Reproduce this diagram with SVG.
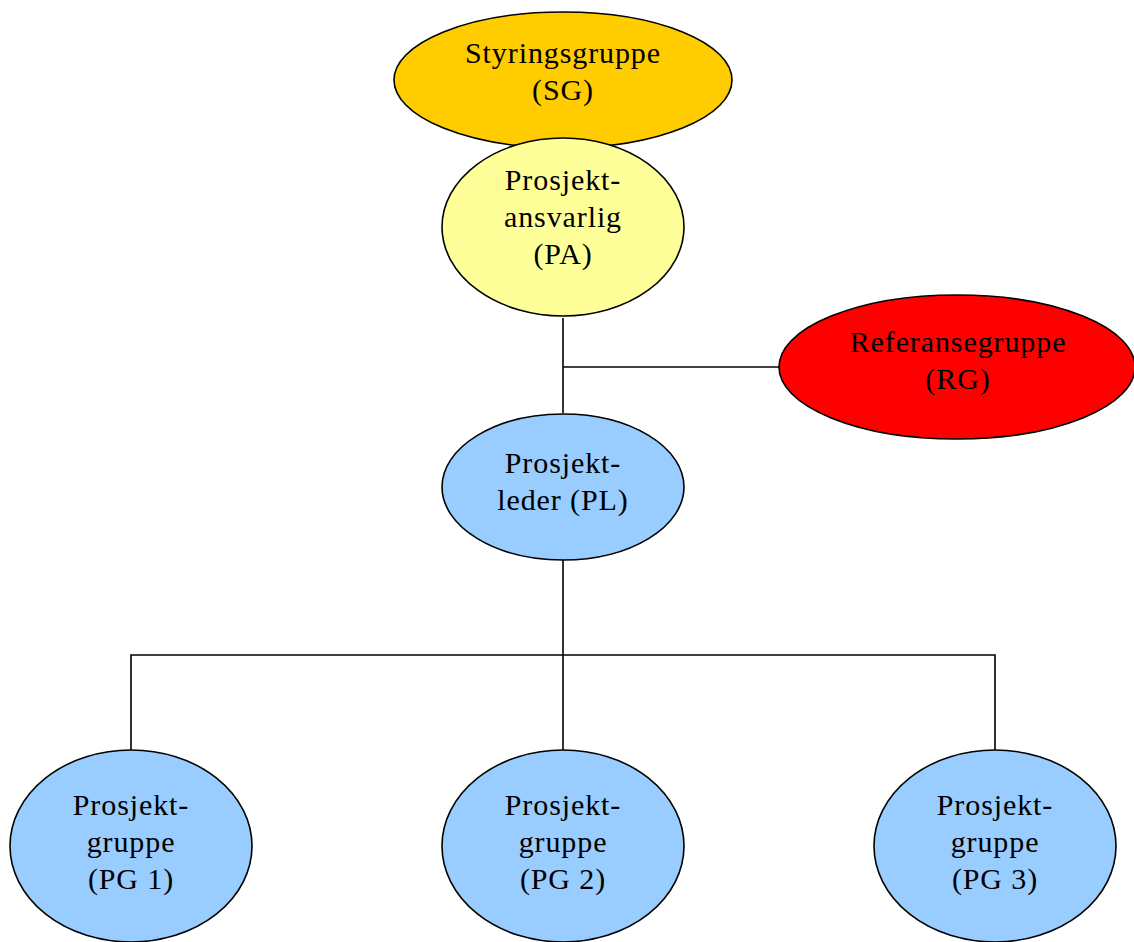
<svg xmlns="http://www.w3.org/2000/svg" width="1134" height="942" viewBox="0 0 1134 942">
<style>
.n{stroke:#000;stroke-width:1.6}
.t{font-family:"Liberation Serif","Times New Roman",serif;font-size:30px;letter-spacing:0.9px;fill:#000;text-anchor:middle}
.c{stroke:#000;stroke-width:1.6;fill:none}
</style>
<rect width="1134" height="942" fill="#fff"/>
<g id="connectors">
<polyline class="c" points="563,318 563,413"/>
<polyline class="c" points="563,367 780,367"/>
<polyline class="c" points="563,560 563,750"/>
<polyline class="c" points="131,750 131,655 995,655 995,750"/>
</g>
<g id="SG">
<ellipse class="n" cx="563" cy="80" rx="169" ry="68" fill="#FFCC00"/>
<text class="t" x="563" y="63">Styringsgruppe</text>
<text class="t" x="563" y="100">(SG)</text>
</g>
<g id="PA">
<ellipse class="n" cx="563" cy="227" rx="121" ry="89" fill="#FFFF99"/>
<text class="t" x="563" y="190">Prosjekt-</text>
<text class="t" x="563" y="227">ansvarlig</text>
<text class="t" x="563" y="264">(PA)</text>
</g>
<g id="RG">
<ellipse class="n" cx="957" cy="367" rx="178" ry="72" fill="#FF0000"/>
<text class="t" x="958" y="352">Referansegruppe</text>
<text class="t" x="958" y="389">(RG)</text>
</g>
<g id="PL">
<ellipse class="n" cx="563" cy="487" rx="121" ry="73" fill="#99CCFF"/>
<text class="t" x="563" y="473">Prosjekt-</text>
<text class="t" x="563" y="510">leder (PL)</text>
</g>
<g id="PG1">
<ellipse class="n" cx="131" cy="846" rx="121" ry="96" fill="#99CCFF"/>
<text class="t" x="131" y="815">Prosjekt-</text>
<text class="t" x="131" y="852">gruppe</text>
<text class="t" x="131" y="889">(PG 1)</text>
</g>
<g id="PG2">
<ellipse class="n" cx="563" cy="846" rx="121" ry="96" fill="#99CCFF"/>
<text class="t" x="563" y="815">Prosjekt-</text>
<text class="t" x="563" y="852">gruppe</text>
<text class="t" x="563" y="889">(PG 2)</text>
</g>
<g id="PG3">
<ellipse class="n" cx="995" cy="846" rx="121" ry="96" fill="#99CCFF"/>
<text class="t" x="995" y="815">Prosjekt-</text>
<text class="t" x="995" y="852">gruppe</text>
<text class="t" x="995" y="889">(PG 3)</text>
</g>
</svg>
